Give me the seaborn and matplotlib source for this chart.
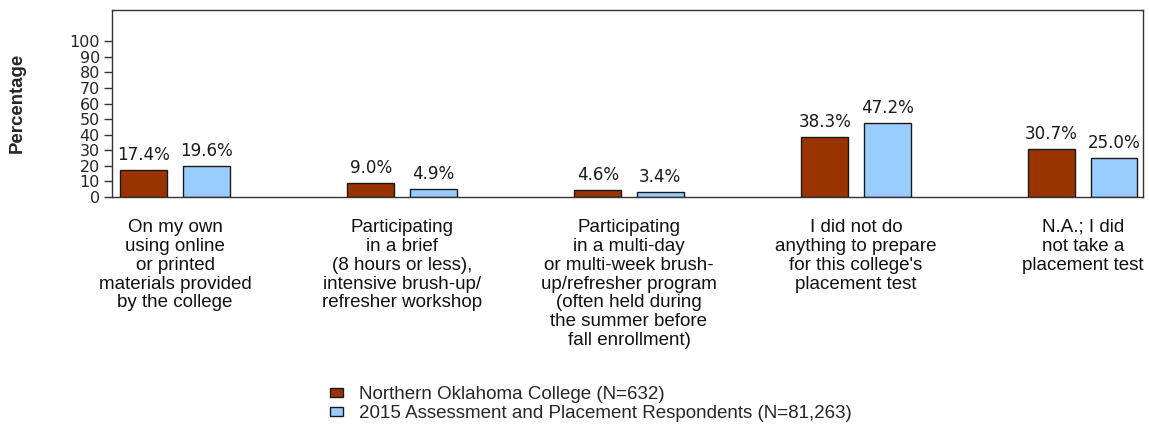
import matplotlib
matplotlib.use("Agg")
import matplotlib.pyplot as plt
import matplotlib.transforms as mtransforms
from matplotlib.patches import Patch
import seaborn as sns
import pandas as pd

categories = [
    "On my own\nusing online\nor printed\nmaterials provided\nby the college",
    "Participating\nin a brief\n(8 hours or less),\nintensive brush-up/\nrefresher workshop",
    "Participating\nin a multi-day\nor multi-week brush-\nup/refresher program\n(often held during\nthe summer before\nfall enrollment)",
    "I did not do\nanything to prepare\nfor this college's\nplacement test",
    "N.A.; I did\nnot take a\nplacement test",
]
series_names = [
    "Northern Oklahoma College (N=632)",
    "2015 Assessment and Placement Respondents (N=81,263)",
]
college_values = [17.4, 9.0, 4.6, 38.3, 30.7]
national_values = [19.6, 4.9, 3.4, 47.2, 25.0]
y_ticks = list(range(0, 101, 10))
colors = ["#993300", "#99CCFF"]

rows = []
for i, c in enumerate(categories):
    rows.append({"cat": c, "series": series_names[0], "value": college_values[i]})
    rows.append({"cat": c, "series": series_names[1], "value": national_values[i]})
df = pd.DataFrame(rows)

sns.set_style("white")
plt.rcParams["font.family"] = ["DejaVu Sans"]

fig = plt.figure(figsize=(11.49, 4.30), dpi=100)
ax = fig.add_axes([112 / 1149, 1 - 197 / 430, (1143 - 112) / 1149, 187 / 430])

sns.barplot(data=df, x="cat", y="value", hue="series", order=categories,
            hue_order=series_names, palette=colors, saturation=1, width=0.55, gap=0.25,
            edgecolor="#1a1a1a", linewidth=1.0, ax=ax, legend=False)

ax.set_ylim(0, 120)
ax.set_xlim(-0.278, 4.265)
ax.set_yticks(y_ticks)
ax.set_yticklabels([str(t) for t in y_ticks], fontsize=11.5)
ax.tick_params(axis="y", length=5.8, width=1, color="#333333", pad=2.9, direction="out", left=True)
ax.tick_params(axis="x", length=0)
ax.set_xticks([])
ax.set_xlabel("")
ax.set_ylabel("")
for s in ax.spines.values():
    s.set_visible(True)
    s.set_color("#333333")
    s.set_linewidth(1)

fig.text(17 / 1149, 1 - 103 / 430, "Percentage", rotation=90, ha="center", va="center",
         fontsize=13.4, fontweight="bold", family="Liberation Sans")

for cont in ax.containers:
    labels = [f"{v:.1f}%" for v in cont.datavalues]
    ax.bar_label(cont, labels=labels, padding=4.3, fontsize=12.1, color="#1a1a1a")

trans = mtransforms.blended_transform_factory(ax.transData, ax.transAxes)
for i, c in enumerate(categories):
    ax.text(i, -0.116, c, transform=trans, ha="center", va="top", fontsize=13.5,
            family="Liberation Sans", linespacing=1.15, color="#111111")

handles = [Patch(facecolor=colors[k], edgecolor="#1a1a1a", linewidth=1) for k in range(2)]
fig.legend(handles, series_names, loc="upper left", bbox_to_anchor=(330 / 1149, 1 - 386 / 430),
           frameon=False, prop={"family": "Liberation Sans", "size": 13.5},
           handlelength=0.7, handleheight=0.36, handletextpad=0.85, labelspacing=0.1,
           borderaxespad=0, borderpad=0)

fig.savefig("out.png", dpi=100)
